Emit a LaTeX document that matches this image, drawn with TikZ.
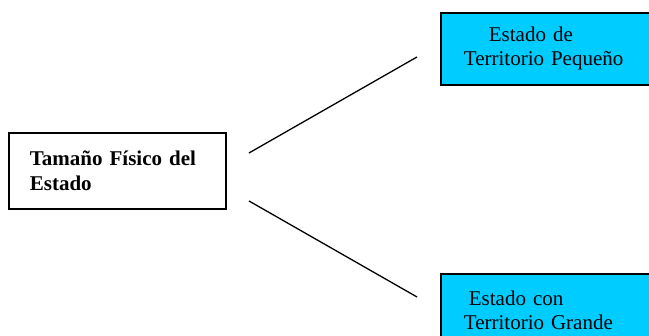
\documentclass[tikz,border=0pt]{standalone}
\usepackage{fontspec}
\setmainfont{Liberation Serif}
\usetikzlibrary{positioning,calc}

\definecolor{boxcyan}{HTML}{00CCFF}

\begin{document}
\begin{tikzpicture}[x=0.5pt, y=-0.5pt,
  mainbox/.style={draw, line width=0.9pt, fill=white, align=left, inner xsep=10.5pt,
    text width=87.5pt, minimum height=38pt, font=\fontsize{10.5}{12.3}\selectfont\bfseries},
  typebox/.style={draw, line width=0.9pt, fill=boxcyan, align=left, inner xsep=11.5pt,
    text width=200pt, minimum height=36pt, font=\fontsize{10.5}{12}\selectfont},
  branch/.style={line width=0.65pt}]

\clip (0,0) rectangle (649,336);

% Main box
\node[mainbox, anchor=west] (size) at (8, 171) {Tamaño Físico del\\Estado};

% Type boxes (cut at the right edge)
\node[typebox, anchor=north west] (small) at (440, 12) {\hspace*{12.5pt}Estado de\\Territorio Pequeño};
\node[typebox, anchor=north west] (large) at (440, 273) {\hspace*{2.5pt}Estado con\\Territorio Grande};

% Branch ends
\coordinate (up1) at (249, 153);
\coordinate (up2) at (417, 57);
\coordinate (dn1) at (249, 201);
\coordinate (dn2) at (417, 297);

% Branches
\draw[branch] (up1) -- (up2);
\draw[branch] (dn1) -- (dn2);

\end{tikzpicture}
\end{document}
